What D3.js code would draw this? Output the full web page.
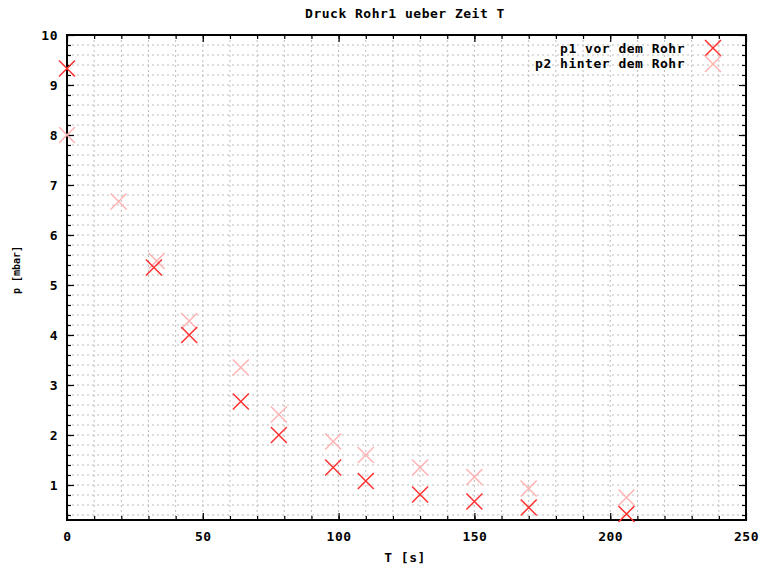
<!DOCTYPE html>
<html>
<head>
<meta charset="utf-8">
<script src="https://cdn.jsdelivr.net/npm/d3@7/dist/d3.min.js"></script>
<style>
  body { margin: 0; background: #fff; }
  svg text { font-family: "DejaVu Sans Mono", "Liberation Mono", monospace; font-weight: bold; fill: #000; }
</style>
</head>
<body>
<svg width="762" height="570"></svg>
<script>
var t1 = [0, 32, 45, 64, 78, 98, 110, 130, 150, 170, 206];
var p1 = [9.33, 5.35, 4.0, 2.67, 2.0, 1.35, 1.08, 0.81, 0.67, 0.55, 0.42];
var t2 = [0, 19, 33, 45, 64, 78, 98, 110, 130, 150, 170, 206];
var p2 = [8.0, 6.67, 5.48, 4.28, 3.35, 2.41, 1.87, 1.6, 1.35, 1.16, 0.93, 0.75];
var xTicks = [0, 50, 100, 150, 200, 250];
var yTicks = [1, 2, 3, 4, 5, 6, 7, 8, 9, 10];
var seriesNames = ["p1 vor dem Rohr", "p2 hinter dem Rohr"];

var margin = {top: 35, right: 16, bottom: 50, left: 67},
    width = 762 - margin.left - margin.right,
    height = 570 - margin.top - margin.bottom;

var x = d3.scaleLinear().domain([0, 250]).range([0, width]);
var y = d3.scaleLinear().domain([0.3, 10]).range([height, 0]);

var xMinor = d3.range(10, 250, 10);
var yMinor = d3.range(2, 50).map(function(i) { return +(i * 0.2).toFixed(1); });

var svg = d3.select("svg")
  .append("g")
  .attr("transform", "translate(" + margin.left + "," + margin.top + ")");

// dotted grid
svg.append("g")
  .selectAll("line.vg")
  .data(xMinor)
  .enter().append("line")
  .attr("x1", function(d) { return x(d); })
  .attr("x2", function(d) { return x(d); })
  .attr("y1", 0).attr("y2", height)
  .attr("stroke", "#bbb").attr("stroke-dasharray", "2,3");
svg.append("g")
  .selectAll("line.hg")
  .data(yMinor)
  .enter().append("line")
  .attr("y1", function(d) { return y(d); })
  .attr("y2", function(d) { return y(d); })
  .attr("x1", 0).attr("x2", width)
  .attr("stroke", "#bbb").attr("stroke-dasharray", "2,3");

// ticks on all four sides (inward)
function tickAxis(axis, vals, size, tr) {
  var g = svg.append("g")
    .attr("transform", tr || null)
    .call(axis.tickValues(vals).tickSize(size).tickFormat(""));
  g.select(".domain").remove();
  g.selectAll("line").attr("stroke", "#000").attr("stroke-width", 1.2);
}
tickAxis(d3.axisBottom(x), xTicks, -7, "translate(0," + height + ")");
tickAxis(d3.axisBottom(x), xMinor, -4, "translate(0," + height + ")");
tickAxis(d3.axisTop(x), xTicks, -7);
tickAxis(d3.axisTop(x), xMinor, -4);
tickAxis(d3.axisLeft(y), yTicks, -7);
tickAxis(d3.axisLeft(y), yMinor, -4);
tickAxis(d3.axisRight(y), yTicks, -7, "translate(" + width + ",0)");
tickAxis(d3.axisRight(y), yMinor, -4, "translate(" + width + ",0)");

// border
svg.append("rect")
  .attr("width", width).attr("height", height)
  .attr("fill", "none").attr("stroke", "#000").attr("stroke-width", 2);

// tick labels
svg.append("g")
  .attr("transform", "translate(0," + height + ")")
  .call(d3.axisBottom(x).tickValues(xTicks).tickSize(0).tickPadding(12))
  .call(function(g) { g.select(".domain").remove(); })
  .selectAll("text")
  .style("font-size", "13px").style("letter-spacing", "0.5px");
svg.append("g")
  .call(d3.axisLeft(y).tickValues(yTicks).tickSize(0).tickPadding(9))
  .call(function(g) { g.select(".domain").remove(); })
  .selectAll("text")
  .style("font-size", "13px").style("letter-spacing", "0.5px");

// markers
var cross = "M-8,-8L8,8M-8,8L8,-8";
var sets = [
  {t: t2, p: p2, color: "#ffb3b3"},
  {t: t1, p: p1, color: "#ff3030"}
];
sets.forEach(function(s) {
  svg.append("g")
    .selectAll("path")
    .data(s.t)
    .enter().append("path")
    .attr("d", cross)
    .attr("transform", function(d, i) { return "translate(" + x(d) + "," + y(s.p[i]) + ")"; })
    .attr("fill", "none")
    .attr("stroke", s.color)
    .attr("stroke-width", 1.5);
});

// legend
var legend = svg.append("g");
[ "#ff3030", "#ffb3b3" ].forEach(function(c, i) {
  legend.append("text")
    .attr("x", 618).attr("y", 18 + i * 15)
    .attr("text-anchor", "end")
    .style("font-size", "13px").style("letter-spacing", "0.5px")
    .text(seriesNames[i]);
  legend.append("path")
    .attr("d", cross)
    .attr("transform", "translate(646," + (13 + i * 16) + ")")
    .attr("fill", "none").attr("stroke", c).attr("stroke-width", 1.5);
});

// title and axis labels
d3.select("svg").append("text")
  .attr("x", 405).attr("y", 18)
  .attr("text-anchor", "middle")
  .style("font-size", "13px").style("letter-spacing", "0.5px")
  .text("Druck Rohr1 ueber Zeit T");
d3.select("svg").append("text")
  .attr("x", 405).attr("y", 562)
  .attr("text-anchor", "middle")
  .style("font-size", "13px").style("letter-spacing", "0.5px")
  .text("T [s]");
d3.select("svg").append("text")
  .attr("transform", "translate(20,270) rotate(-90)")
  .attr("text-anchor", "middle")
  .style("font-size", "10px")
  .text("p [mbar]");
</script>
</body>
</html>
